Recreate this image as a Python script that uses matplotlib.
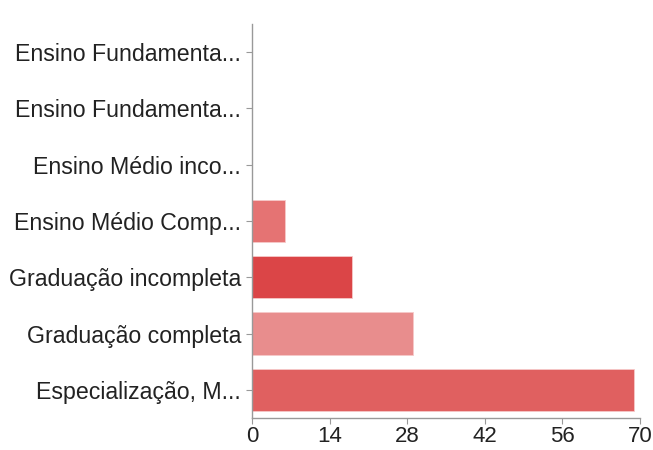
import matplotlib.pyplot as plt

categories = [
    "Ensino Fundamenta...",
    "Ensino Fundamenta...",
    "Ensino Médio inco...",
    "Ensino Médio Comp...",
    "Graduação incompleta",
    "Graduação completa",
    "Especialização, M...",
]
values = [0, 0, 0, 6, 18, 29, 69]
colors = ["#e57373", "#e57373", "#e57373", "#e57373", "#db4547", "#e88d8d", "#e06060"]
xticks = [0, 14, 28, 42, 56, 70]

plt.rcParams['font.family'] = ['Liberation Sans', 'DejaVu Sans']

fig = plt.figure(figsize=(6.53, 4.5), dpi=100)
ax = fig.add_axes([0.386, 0.071, 0.594, 0.876])

y = list(range(len(categories)))
ax.barh(y, values, height=0.75, color=colors, edgecolor="#f6c9c9", linewidth=0.6)
ax.set_yticks(y)
ax.set_yticklabels(categories)
ax.set_ylim(len(categories) - 0.5, -0.5)
ax.set_xlim(0, 70)
ax.set_xticks(xticks)

for s in ["top", "right"]:
    ax.spines[s].set_visible(False)
for s in ["left", "bottom"]:
    ax.spines[s].set_color("#999999")
    ax.spines[s].set_linewidth(1.0)

ax.tick_params(axis="y", length=4, width=0.8, color="#999999", pad=4,
               labelsize=16.7, labelcolor="#222222")
ax.tick_params(axis="x", length=4, width=0.8, color="#999999", pad=2,
               labelsize=16, labelcolor="#222222")

fig.savefig("out.png", dpi=100)
